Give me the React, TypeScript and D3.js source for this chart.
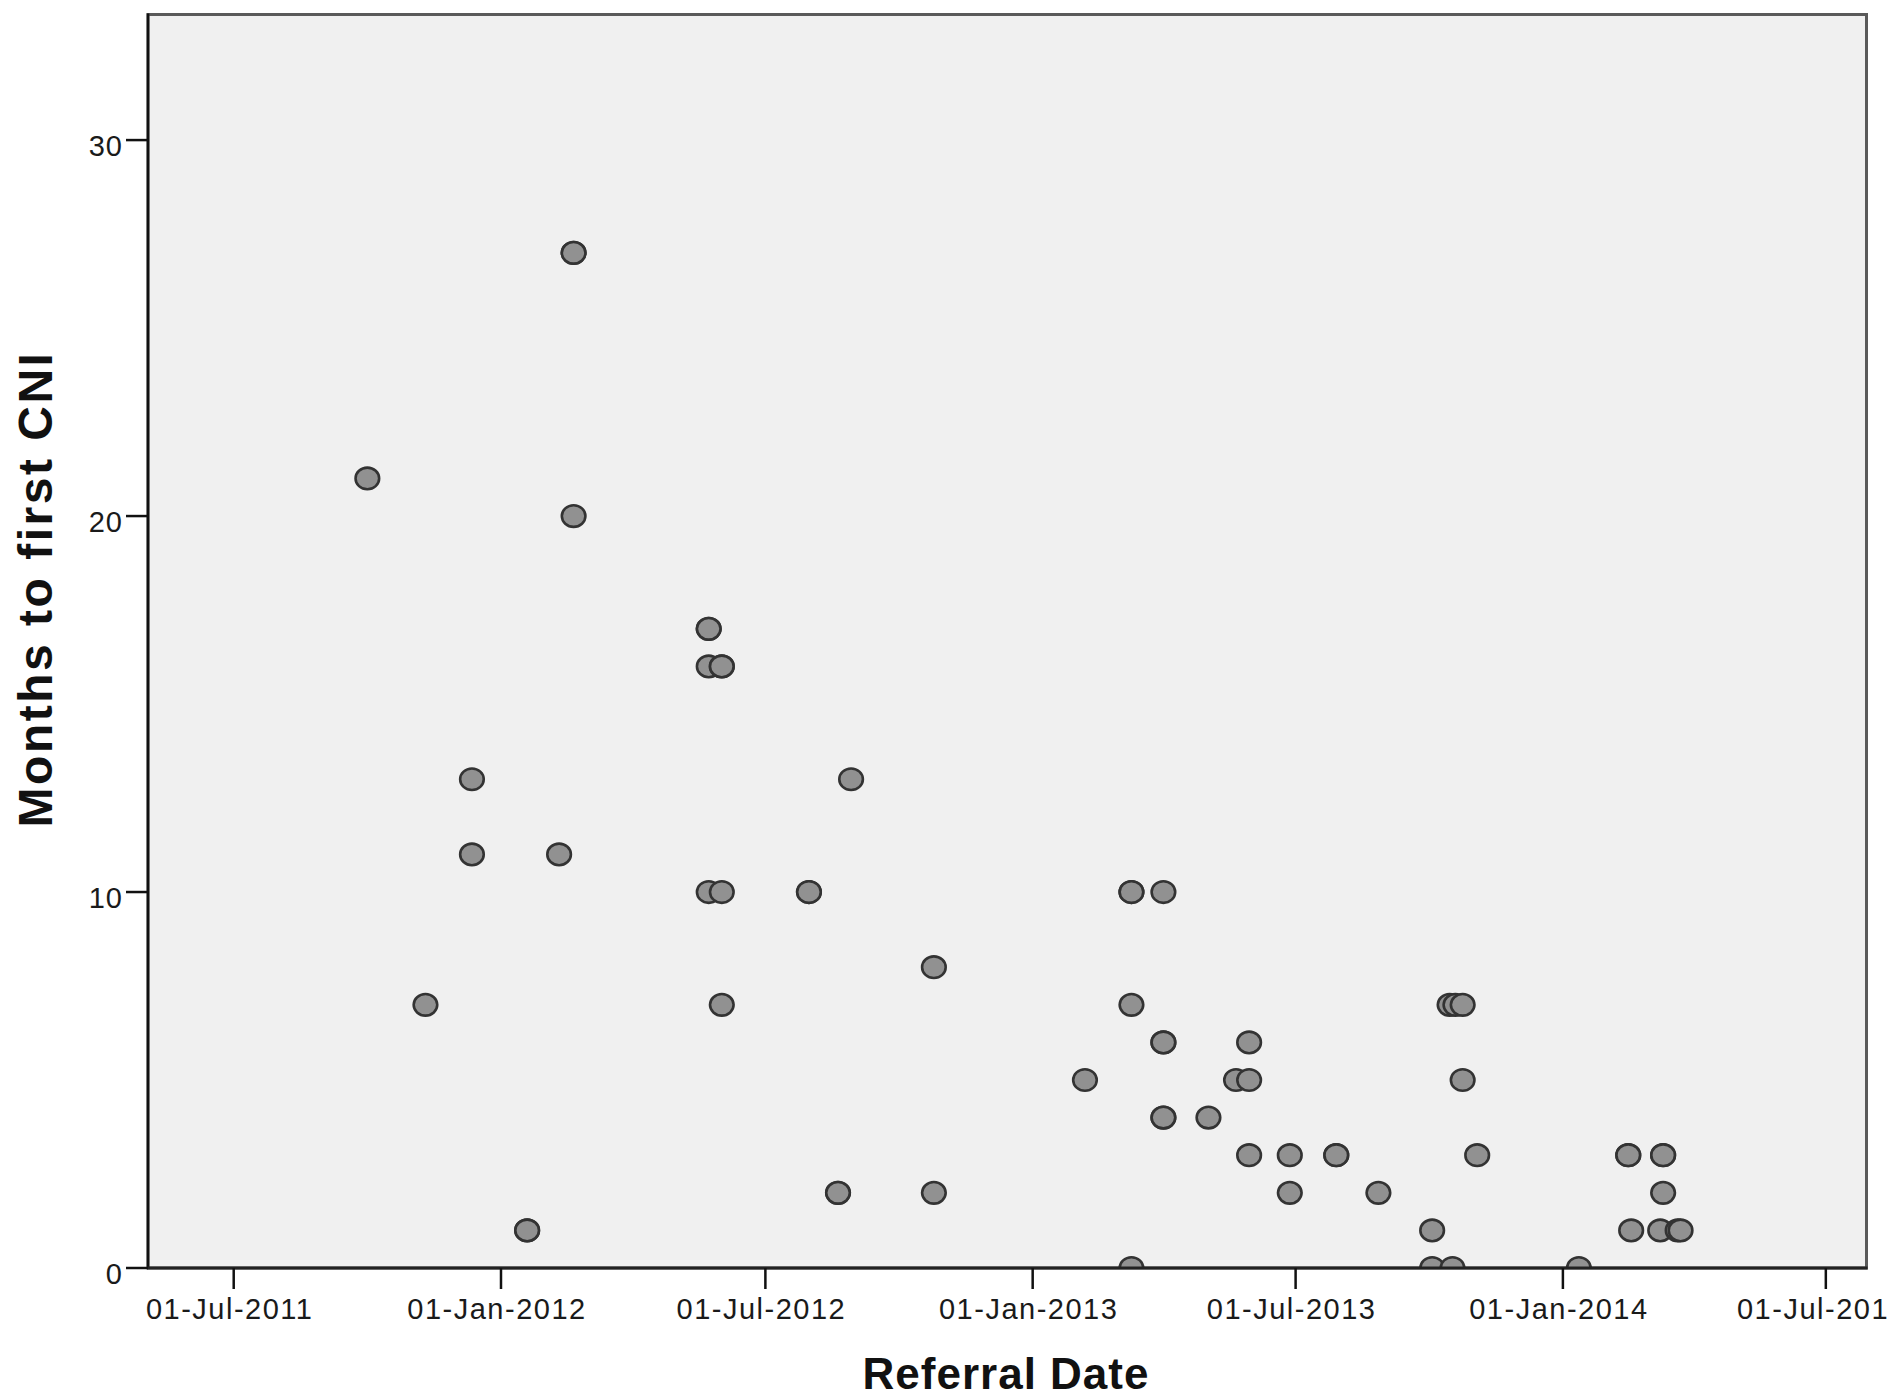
import React from "react";
import * as d3 from "d3";

// ---- Data ----
const referralDates: string[] = [
  "2011-10-01", "2011-11-10", "2011-12-12", "2011-12-12", "2012-01-19", "2012-01-19",
  "2012-02-10", "2012-02-20", "2012-02-20", "2012-02-20", "2012-05-23", "2012-05-23",
  "2012-05-23", "2012-06-01", "2012-06-01", "2012-05-23", "2012-06-01", "2012-06-01",
  "2012-07-31", "2012-07-31", "2012-08-20", "2012-08-20", "2012-08-29", "2012-10-25",
  "2012-10-25", "2013-02-06", "2013-03-10", "2013-03-10", "2013-03-10", "2013-03-10",
  "2013-04-01", "2013-04-01", "2013-04-01", "2013-04-01", "2013-04-01", "2013-05-02",
  "2013-05-21", "2013-05-30", "2013-05-30", "2013-05-30", "2013-06-27", "2013-06-27",
  "2013-07-29", "2013-07-29", "2013-08-27", "2013-10-03", "2013-10-03", "2013-10-17",
  "2013-10-15", "2013-10-19", "2013-10-24", "2013-10-24", "2013-11-03", "2014-01-12",
  "2014-02-15", "2014-02-15", "2014-02-17", "2014-03-11", "2014-03-11", "2014-03-11",
  "2014-03-09", "2014-03-21", "2014-03-23",
];
const monthsToFirstCNI: number[] = [
  21, 7, 13, 11, 1, 1,
  11, 27, 27, 20, 17, 17,
  16, 16, 16, 10, 10, 7,
  10, 10, 2, 2, 13, 8,
  2, 5, 10, 10, 7, 0,
  10, 6, 6, 4, 4, 4,
  5, 5, 6, 3, 3, 2,
  3, 3, 2, 1, 0, 0,
  7, 7, 7, 5, 3, 0,
  3, 3, 1, 3, 3, 2,
  1, 1, 1,
];
const xDomain: string[] = ["2011-05-03", "2014-07-29"];
const yDomain: number[] = [0, 33.34];
const yTicks: number[] = [0, 10, 20, 30];
const xTitle = "Referral Date";
const yTitle = "Months to first CNI";

const W = 1889;
const H = 1398;
const left = 148;
const right = 1866.5;
const top = 14.5;
const bottom = 1268;

const parse = d3.utcParse("%Y-%m-%d");
const fmt = d3.utcFormat("%d-%b-%Y");

export default function App() {
  const x = d3
    .scaleUtc()
    .domain(xDomain.map((d) => parse(d) as Date))
    .range([left, right]);
  const y = d3.scaleLinear().domain(yDomain).range([bottom, top]);
  const xTicks = d3.utcMonth
    .every(6)!
    .range(parse("2011-06-01") as Date, parse("2014-08-01") as Date)
    .filter((d) => d >= x.domain()[0] && d <= x.domain()[1]);

  const points = referralDates.map((d, i) => ({
    date: parse(d) as Date,
    v: monthsToFirstCNI[i],
  }));

  const font = "'Liberation Sans', Arial, Helvetica, sans-serif";

  return (
    <svg
      width={W}
      height={H}
      style={{ position: "absolute", left: 0, top: 0, background: "#fff" }}
    >
      <defs>
        <clipPath id="plotclip">
          <rect x={left} y={top} width={right - left} height={bottom - top} />
        </clipPath>
      </defs>
      <rect x={0} y={0} width={W} height={H} fill="#ffffff" />
      <rect
        x={left}
        y={top}
        width={right - left}
        height={bottom - top}
        fill="#f0f0f0"
        stroke="#5a5a5a"
        strokeWidth={3}
      />
      <g clipPath="url(#plotclip)">
        {points.map((p, i) => (
          <ellipse
            key={i}
            cx={x(p.date)}
            cy={y(p.v)}
            rx={11.8}
            ry={10.8}
            fill="#919191"
            stroke="#333333"
            strokeWidth={2.6}
          />
        ))}
      </g>
      {/* axes */}
      <line x1={left} x2={left} y1={top - 1} y2={bottom + 1} stroke="#111" strokeWidth={2.6} />
      <line x1={left - 1} x2={right + 1} y1={bottom} y2={bottom} stroke="#222" strokeWidth={2.8} />
      {yTicks.map((t) => (
        <g key={"y" + t}>
          <line x1={left - 22} x2={left} y1={y(t)} y2={y(t)} stroke="#111" strokeWidth={2.5} />
          <text
            x={123}
            y={y(t) + 15.5}
            textAnchor="end"
            fontFamily={font}
            fontSize={29}
            letterSpacing={1}
            fill="#1a1a1a"
          >
            {t}
          </text>
        </g>
      ))}
      {xTicks.map((t, i) => (
        <g key={"x" + i}>
          <line x1={x(t)} x2={x(t)} y1={bottom} y2={bottom + 21} stroke="#111" strokeWidth={2.5} />
          <text
            x={x(t) - 4}
            y={1319}
            textAnchor="middle"
            fontFamily={font}
            fontSize={29}
            letterSpacing={1.5}
            fill="#1a1a1a"
          >
            {fmt(t)}
          </text>
        </g>
      ))}
      <text
        x={1006}
        y={1389}
        textAnchor="middle"
        fontFamily={font}
        fontWeight="bold"
        fontSize={44}
        letterSpacing={1}
        fill="#111"
      >
        {xTitle}
      </text>
      <text
        transform={`translate(52,589) rotate(-90)`}
        textAnchor="middle"
        fontFamily={font}
        fontWeight="bold"
        fontSize={48}
        letterSpacing={2.5}
        fill="#111"
      >
        {yTitle}
      </text>
    </svg>
  );
}
